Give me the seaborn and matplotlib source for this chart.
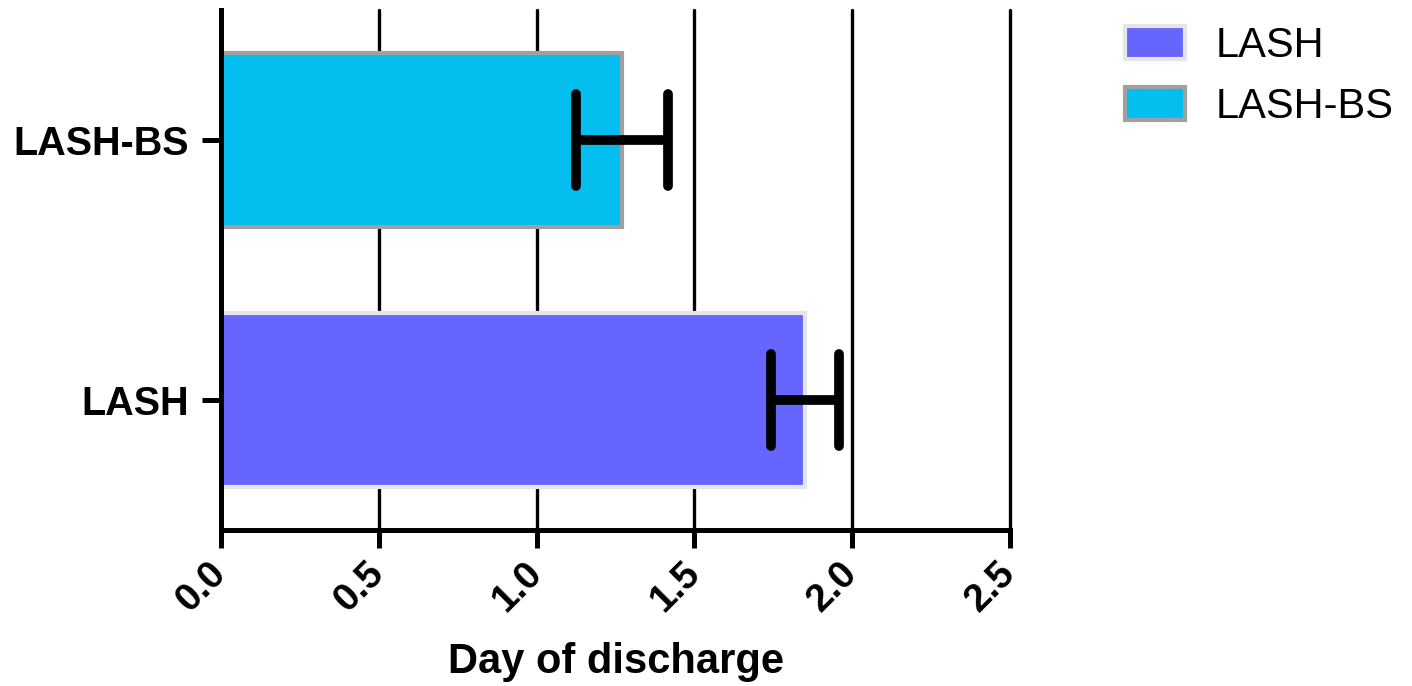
import numpy as np
import pandas as pd
import seaborn as sns
import matplotlib.pyplot as plt
from matplotlib.markers import MarkerStyle
from matplotlib.patches import Patch

grupos = ['LASH-BS', 'LASH']
medias = [1.27, 1.85]
erros = [0.145, 0.107]
ordem_legenda = ['LASH', 'LASH-BS']
cores = {'LASH': '#6666FF', 'LASH-BS': '#05BEF0'}
bordas = {'LASH': '#E6E6E6', 'LASH-BS': '#A0A0A0'}
ticks_x = [0.0, 0.5, 1.0, 1.5, 2.0, 2.5]

df = pd.DataFrame({'grupo': grupos, 'media': medias, 'erro': erros})

sns.set_style('white')
plt.rcParams['font.family'] = ['Liberation Sans', 'DejaVu Sans']
plt.rcParams['text.color'] = 'black'
plt.rcParams['axes.labelcolor'] = 'black'
plt.rcParams['xtick.color'] = 'black'
plt.rcParams['ytick.color'] = 'black'

fig = plt.figure(figsize=(14.12, 6.86), dpi=100)
ax = fig.add_axes([221 / 1412, 1 - 530 / 686, (1010 - 221) / 1412, 520 / 686])

sns.barplot(
    data=df, x='media', y='grupo', hue='grupo',
    order=grupos, hue_order=ordem_legenda, palette=cores,
    errorbar=None, width=0.67, saturation=1, legend=False, ax=ax
)

# bordas por grupo (containers seguem hue_order)
for cont, g in zip(ax.containers, ordem_legenda):
    for barra in cont:
        barra.set_edgecolor(bordas[g])
        barra.set_linewidth(3)

# barras de erro
pos = np.arange(len(grupos))
_, caps, _ = ax.errorbar(df['media'], pos, xerr=df['erro'], fmt='none',
                         ecolor='black', elinewidth=7, capsize=33,
                         capthick=7, zorder=5)
for c in caps:
    c.set_marker(MarkerStyle('|', capstyle='round'))

ax.set_xlim(0, 2.5)
ax.set_ylim(1.5, -0.5)
ax.set_xticks(ticks_x)
ax.set_xticklabels([f'{t:.1f}' for t in ticks_x], rotation=45, ha='right',
                   va='center', rotation_mode='anchor',
                   fontsize=28, fontweight='bold')
ax.set_yticks(pos)
ax.set_yticklabels(grupos, fontsize=28.5, fontweight='bold')

ax.grid(axis='x', color='black', linewidth=2.4)
ax.grid(axis='y', visible=False)
for gl in ax.get_xgridlines():
    gl.set_clip_on(False)
ax.set_axisbelow(True)

for s in ['top', 'right']:
    ax.spines[s].set_visible(False)
for s in ['left', 'bottom']:
    ax.spines[s].set_linewidth(3.6)
    ax.spines[s].set_color('black')

ax.tick_params(axis='x', length=13, width=3.6, direction='out', pad=14, bottom=True)
ax.tick_params(axis='y', length=14, width=3.6, direction='out', pad=9, left=True)

ax.set_xlabel('Day of discharge', fontsize=30, fontweight='bold', va='top')
ax.xaxis.set_label_coords(0.5, -0.215)
ax.set_ylabel('')

# legenda
handles = [Patch(facecolor=cores[g], edgecolor=bordas[g], linewidth=3) for g in ordem_legenda]
fig.legend(handles, ordem_legenda, loc='upper left',
           bbox_to_anchor=(1125 / 1412, 1 - 26 / 686),
           frameon=False, fontsize=30, handlelength=1.45, handleheight=0.85,
           handletextpad=0.72, labelspacing=0.5, borderpad=0, borderaxespad=0)

plt.savefig('out.png', dpi=100)
plt.close('all')
